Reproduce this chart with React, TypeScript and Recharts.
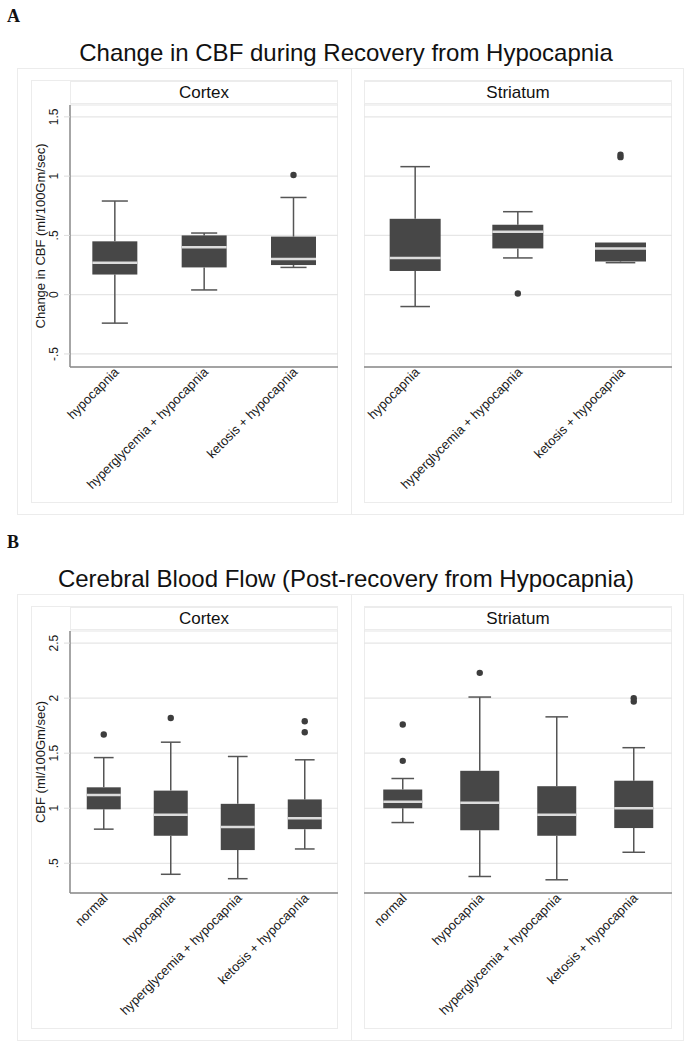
import { ComposedChart, Bar, XAxis, YAxis, CartesianGrid } from 'recharts';

// categories
const catsA = ['hypocapnia', 'hyperglycemia + hypocapnia', 'ketosis + hypocapnia'];
const catsB = ['normal', 'hypocapnia', 'hyperglycemia + hypocapnia', 'ketosis + hypocapnia'];

// A: change in CBF, cortex
const aCtxLo = [-0.24, 0.04, 0.23];
const aCtxQ1 = [0.17, 0.23, 0.25];
const aCtxMed = [0.27, 0.4, 0.3];
const aCtxQ3 = [0.45, 0.5, 0.49];
const aCtxHi = [0.79, 0.52, 0.82];
const aCtxOut = [[], [], [1.01]];

// A: change in CBF, striatum
const aStrLo = [-0.1, 0.31, 0.27];
const aStrQ1 = [0.2, 0.39, 0.28];
const aStrMed = [0.31, 0.53, 0.39];
const aStrQ3 = [0.64, 0.59, 0.44];
const aStrHi = [1.08, 0.7, 0.44];
const aStrOut = [[], [0.01], [1.16, 1.18]];

// B: CBF post-recovery, cortex
const bCtxLo = [0.81, 0.4, 0.36, 0.63];
const bCtxQ1 = [0.99, 0.75, 0.62, 0.81];
const bCtxMed = [1.12, 0.94, 0.83, 0.91];
const bCtxQ3 = [1.19, 1.16, 1.04, 1.08];
const bCtxHi = [1.46, 1.6, 1.47, 1.44];
const bCtxOut = [[1.67], [1.82], [], [1.69, 1.79]];

// B: CBF post-recovery, striatum
const bStrLo = [0.87, 0.38, 0.35, 0.6];
const bStrQ1 = [1.0, 0.8, 0.75, 0.82];
const bStrMed = [1.06, 1.05, 0.94, 1.0];
const bStrQ3 = [1.17, 1.34, 1.2, 1.25];
const bStrHi = [1.27, 2.01, 1.83, 1.55];
const bStrOut = [[1.43, 1.76], [2.23], [], [1.97, 2.0]];

// axes
const aDomain = [-0.61, 1.6];
const aTicks = [-0.5, 0, 0.5, 1, 1.5];
const aTickLabels = ['-.5', '0', '.5', '1', '1.5'];
const bDomain = [0.23, 2.61];
const bTicks = [0.5, 1, 1.5, 2, 2.5];
const bTickLabels = ['.5', '1', '1.5', '2', '2.5'];

const FONT = '"Liberation Sans", Arial, sans-serif';

function rows(cats: string[], lo: number[], q1: number[], med: number[], q3: number[], hi: number[], out: number[][]) {
  return cats.map((cat, i) => ({ cat, lo: lo[i], q1: q1[i], med: med[i], q3: q3[i], hi: hi[i], out: out[i] }));
}

function BoxShape(props: any) {
  const { x, y, width, height, payload } = props;
  const d = payload;
  const k = height / (d.q3 - d.q1);
  const py = (v: number) => y + (d.q3 - v) * k;
  const cx = x + width / 2;
  const cap = width * 0.29;
  return (
    <g>
      {d.hi > d.q3 && (
        <>
          <line x1={cx} x2={cx} y1={py(d.hi)} y2={y} stroke="#555" strokeWidth={1.5} />
          <line x1={cx - cap} x2={cx + cap} y1={py(d.hi)} y2={py(d.hi)} stroke="#555" strokeWidth={1.5} />
        </>
      )}
      {d.lo < d.q1 && (
        <>
          <line x1={cx} x2={cx} y1={y + height} y2={py(d.lo)} stroke="#555" strokeWidth={1.5} />
          <line x1={cx - cap} x2={cx + cap} y1={py(d.lo)} y2={py(d.lo)} stroke="#555" strokeWidth={1.5} />
        </>
      )}
      <rect x={x} y={y} width={width} height={height} fill="#474747" />
      <line x1={x} x2={x + width} y1={py(d.med)} y2={py(d.med)} stroke="#dcdcdc" strokeWidth={2.5} />
      {d.out.map((v: number, j: number) => (
        <circle key={j} cx={cx} cy={py(v)} r={3.2} fill="#3d3d3d" />
      ))}
    </g>
  );
}

function XTick({ x, y, payload }: any) {
  const px = x + 5;
  const ty = y - 2;
  return (
    <text x={px} y={ty} transform={`rotate(-45, ${px}, ${ty})`} textAnchor="end" fontSize={13} fill="#1a1a1a" fontFamily={FONT}>
      {payload.value}
    </text>
  );
}

function makeYTick(ticks: number[], labels: string[]) {
  return function YTick({ x, y, payload }: any) {
    const tx = x - 4;
    return (
      <text x={tx} y={y} transform={`rotate(-90, ${tx}, ${y})`} textAnchor="middle" fontSize={12} fill="#1a1a1a" fontFamily={FONT}>
        {labels[ticks.indexOf(payload.value)]}
      </text>
    );
  };
}

interface SubProps {
  data: any[];
  domain: number[];
  ticks: number[];
  tickLabels: string[];
  left: boolean;
  yLabel?: string;
}

function SubChart({ data, domain, ticks, tickLabels, left, yLabel }: SubProps) {
  const width = left ? 345 : 335;
  return (
    <ComposedChart
      width={width}
      height={410}
      data={data}
      barCategoryGap="25%"
      margin={{ top: 5, right: left ? 7 : 8, left: left ? 30 : 19, bottom: 8 }}
      style={{ fontFamily: FONT }}
    >
      <CartesianGrid vertical={false} stroke="#e6e6e6" strokeWidth={1.2} />
      <XAxis
        dataKey="cat"
        interval={0}
        height={135}
        tickLine={false}
        axisLine={{ stroke: '#888', strokeWidth: 1.5 }}
        tick={<XTick />}
      />
      <YAxis
        hide={!left}
        width={40}
        domain={domain}
        ticks={ticks}
        type="number"
        allowDataOverflow
        tickSize={6}
        tickLine={{ stroke: '#ddd' }}
        axisLine={{ stroke: '#888', strokeWidth: 1.5 }}
        tick={makeYTick(ticks, tickLabels)}
        label={
          yLabel
            ? {
                value: yLabel,
                angle: -90,
                position: 'insideLeft',
                offset: 10,
                style: { textAnchor: 'middle', fontSize: 13, fill: '#1a1a1a', fontFamily: FONT },
              }
            : undefined
        }
      />
      <Bar dataKey={(d: any) => [d.q1, d.q3]} shape={<BoxShape />} isAnimationActive={false} />
    </ComposedChart>
  );
}

interface PanelProps {
  top: number;
  letter: string;
  title: string;
  yLabel: string;
  domain: number[];
  ticks: number[];
  tickLabels: string[];
  cortex: any[];
  striatum: any[];
}

const frame = '1px solid #ececec';

function Panel({ top, letter, title, yLabel, domain, ticks, tickLabels, cortex, striatum }: PanelProps) {
  const abs = (l: number, t: number, w: number, h: number, extra: any = {}) => ({
    position: 'absolute' as const,
    left: l,
    top: top + t,
    width: w,
    height: h,
    boxSizing: 'border-box' as const,
    ...extra,
  });
  return (
    <>
      <div style={abs(7, 7, 40, 18, { fontFamily: '"Liberation Serif", "Times New Roman", serif', fontWeight: 'bold', fontSize: 18, lineHeight: '18px', color: '#111' })}>
        {letter}
      </div>
      <div style={abs(0, 41, 692, 26, { textAlign: 'center', fontSize: 24, lineHeight: '24px', color: '#111' })}>{title}</div>
      <div style={abs(17, 68, 667, 447, { border: frame })} />
      <div style={abs(351, 68, 1, 447, { background: '#ececec' })} />
      <div style={abs(31, 80, 307, 423, { border: frame })} />
      <div style={abs(364, 80, 308, 423, { border: frame })} />
      <div style={abs(70, 81, 268, 23, { border: frame, textAlign: 'center', fontSize: 17, lineHeight: '21px', color: '#111' })}>Cortex</div>
      <div style={abs(364, 81, 308, 23, { border: frame, textAlign: 'center', fontSize: 17, lineHeight: '21px', color: '#111' })}>Striatum</div>
      <div style={abs(0, 100, 345, 410)}>
        <SubChart data={cortex} domain={domain} ticks={ticks} tickLabels={tickLabels} left yLabel={yLabel} />
      </div>
      <div style={abs(345, 100, 335, 410)}>
        <SubChart data={striatum} domain={domain} ticks={ticks} tickLabels={tickLabels} left={false} />
      </div>
    </>
  );
}

export default function App() {
  const aCortex = rows(catsA, aCtxLo, aCtxQ1, aCtxMed, aCtxQ3, aCtxHi, aCtxOut);
  const aStriatum = rows(catsA, aStrLo, aStrQ1, aStrMed, aStrQ3, aStrHi, aStrOut);
  const bCortex = rows(catsB, bCtxLo, bCtxQ1, bCtxMed, bCtxQ3, bCtxHi, bCtxOut);
  const bStriatum = rows(catsB, bStrLo, bStrQ1, bStrMed, bStrQ3, bStrHi, bStrOut);
  return (
    <div style={{ position: 'absolute', left: 0, top: 0, width: 692, height: 1050, background: '#fff', fontFamily: FONT }}>
      <Panel
        top={0}
        letter="A"
        title="Change in CBF during Recovery from Hypocapnia"
        yLabel="Change in CBF (ml/100Gm/sec)"
        domain={aDomain}
        ticks={aTicks}
        tickLabels={aTickLabels}
        cortex={aCortex}
        striatum={aStriatum}
      />
      <Panel
        top={526}
        letter="B"
        title="Cerebral Blood Flow (Post-recovery from Hypocapnia)"
        yLabel="CBF (ml/100Gm/sec)"
        domain={bDomain}
        ticks={bTicks}
        tickLabels={bTickLabels}
        cortex={bCortex}
        striatum={bStriatum}
      />
    </div>
  );
}
